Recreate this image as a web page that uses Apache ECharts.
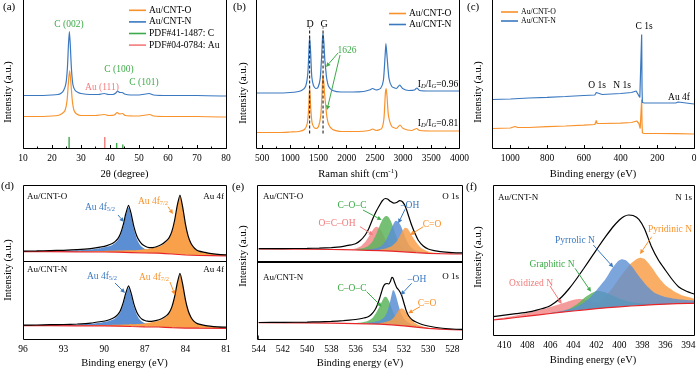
<!DOCTYPE html>
<html>
<head>
<meta charset="utf-8">
<script src="https://cdn.jsdelivr.net/npm/echarts@6.0.0/dist/echarts.min.js"></script>
<style>html,body{margin:0;padding:0;background:#fff;}#chart{width:700px;height:369px;}</style>
</head>
<body>
<div id="chart"></div>
<script>
// ===================== DATA (intensities in arbitrary units) =====================
// (a) XRD
const xrdO = [[10,32],[15,32],[20,32.5],[22,33],[23.5,35],[24.5,38],[25.2,48],[25.7,68],[26.1,78],[26.5,66],[27,48],[27.6,38],[28.5,34.5],[30,33],[35,33],[38,34],[39.5,33],[41.5,33.5],[42.5,36],[43.3,34.5],[44.3,35],[45.2,33],[50,32.5],[53.7,34],[55,32.5],[60,32],[70,32],[80,31.5]];
const xrdN = [[10,53],[15,53],[20,53.5],[22,54],[23,55],[24,58],[24.8,65],[25.3,80],[25.7,105],[26,117],[26.3,104],[26.7,80],[27.2,64],[28,58],[29,56],[30,55],[33,54],[36,54],[38,55],[39.5,54],[41,54],[42,55.5],[42.6,57.5],[43.4,56],[44.2,56],[45,54.5],[47,53.5],[50,53.5],[53.5,55],[55,53.5],[60,53],[70,53],[80,52.5]];
const pdfC = [[25.9,11.5],[42.3,5.5],[44.4,4]];
const pdfAu = [[38.2,11.5]];
// (b) Raman
const ramanO = [[400,16],[800,16],[1000,16.5],[1150,17],[1250,19],[1300,25],[1325,40],[1342,62],[1360,42],[1385,26],[1420,21],[1460,20],[1500,22],[1540,33],[1560,52],[1577,74],[1595,65],[1610,53],[1626,44],[1645,33],[1680,24],[1750,19],[1900,17],[2200,17],[2400,18],[2460,19.5],[2520,18],[2620,20],[2660,30],[2685,55],[2700,60],[2715,52],[2740,33],[2800,22],[2880,20],[2945,23.5],[3000,20],[3150,18],[3240,20],[3290,18],[3600,17.5],[4000,17.5]];
const ramanN = [[400,55.5],[600,55.5],[800,55.5],[1000,56],[1100,56.5],[1200,58],[1270,62],[1310,75],[1330,98],[1342,112],[1360,96],[1380,72],[1410,63],[1450,60],[1490,61],[1530,70],[1555,92],[1570,110],[1580,115],[1595,106],[1610,90],[1626,80],[1645,70],[1680,62],[1750,58],[1900,56.5],[2100,56.5],[2300,57],[2400,58.5],[2460,60],[2520,58.5],[2600,60],[2650,68],[2680,92],[2695,105],[2715,92],[2750,70],[2800,62],[2880,60],[2940,63.5],[2990,60],[3100,58],[3200,58.5],[3245,60.5],[3290,58],[3500,57.5],[3800,57.5],[4000,57.5]];
const ramanBands = [1342, 1580];
const ramanBandSpan = [15, 121];
// (c) XPS survey
const surveyO = [[1100,20],[1000,20.5],[975,22],[960,21],[900,21],[800,21.8],[700,22.5],[600,23.3],[540,24],[532,28],[528,25],[500,25],[400,25.3],[340,26],[312,27.5],[300,25],[293,20],[288,21],[285,49],[283,25],[281,15.5],[270,15],[200,15],[100,14.8],[0,14.5]];
const surveyN = [[1100,49],[1000,49.5],[900,50.5],[800,51.2],[700,52],[600,53],[540,53.5],[532,56],[528,54],[500,54],[400,55],[340,56],[315,57.5],[305,56],[295,51],[288,52],[285,114],[283,60],[281,46],[270,45.5],[200,45.5],[100,45.5],[86,46.5],[80,45.5],[0,44.5]];
// (d) Au 4f
const au4fBaseO = [[96,9.3],[94,9.3],[92,9.2],[90,9.0],[89,8.8],[88,8.4],[87,8.0],[86,7.8],[85.5,7.4],[85,7.0],[84,6.0],[83,5.5],[82,5.3],[81,5.0]];
const au4f52O = [[96,9.7],[94,10.0],[93,10.2],[92,10.7],[91,11.6],[90.2,13.1],[89.8,14.2],[89.4,16.1],[89.2,17.9],[89.0,20.5],[88.8,25.5],[88.6,33.9],[88.4,45.5],[88.2,53.5],[88.0,44.4],[87.8,31.7],[87.6,22.6],[87.4,17.1],[87.2,13.9],[87.0,12.1],[86.6,10.6],[86.2,9.7],[85.8,9.0],[85.0,7.8],[84.0,6.5],[83,5.8],[81,5.1]];
const au4f72O = [[92,9.8],[90,10.1],[88.2,10.7],[87.4,11.1],[87.0,11.7],[86.6,12.6],[86.2,13.7],[85.8,15.3],[85.4,19.2],[85.2,22.5],[85.0,28.8],[84.8,39.8],[84.6,55.0],[84.4,65.4],[84.2,53.4],[84.0,36.7],[83.8,24.8],[83.6,17.6],[83.4,13.4],[83.2,10.9],[83.0,9.6],[82.6,8.4],[82.2,7.4],[81.6,6.5],[81.0,6.1]];
const au4fRawO = [[96,9.9],[95,10.1],[94,10.4],[93,10.7],[92,11.3],[91,12.4],[90.2,14.1],[89.8,15.4],[89.4,17.5],[89.2,19.4],[89.0,22.1],[88.8,27.2],[88.6,35.8],[88.4,47.5],[88.2,55.7],[88.0,46.7],[87.8,34.1],[87.6,25.3],[87.4,20.1],[87.2,16.8],[87.0,15.0],[86.8,13.8],[86.6,13.3],[86.4,13.4],[86.2,14.0],[85.8,16.2],[85.4,20.3],[85.2,23.4],[85.0,29.6],[84.8,40.5],[84.6,55.6],[84.4,65.9],[84.2,53.9],[84.0,37.2],[83.8,25.2],[83.6,18.0],[83.4,13.8],[83.2,11.2],[83.0,9.9],[82.6,8.7],[82.2,7.6],[81.6,6.7],[81.0,6.2]];
const au4fBaseN = [[96,13.3],[94,13.3],[92,13.2],[90,13.1],[89,12.9],[88,12.5],[87,12.2],[86,12.0],[85.5,11.7],[85,11.4],[84,10.9],[83,10.8],[81,10.7]];
const au4f52N = [[96,13.6],[94,13.9],[93,14.0],[92,14.5],[91,15.2],[90.2,16.6],[89.8,17.4],[89.4,19.2],[89.2,20.6],[89.0,22.9],[88.8,27.0],[88.6,34.4],[88.4,44.3],[88.2,51.1],[88.0,43.3],[87.8,32.4],[87.6,24.6],[87.4,20.0],[87.2,17.2],[87.0,15.7],[86.6,14.4],[86.2,13.6],[85.8,13.1],[85.0,12.1],[84.0,11.3],[83,11.1],[81,10.8]];
const au4f72N = [[92,13.7],[90,14.1],[88.2,14.6],[87.4,15.0],[87.0,15.6],[86.6,16.4],[86.2,17.4],[85.8,18.9],[85.4,22.5],[85.2,25.6],[85.0,31.4],[84.8,41.5],[84.6,55.5],[84.4,65.1],[84.2,54.2],[84.0,39.0],[83.8,28.2],[83.6,21.7],[83.4,17.8],[83.2,15.7],[83.0,14.6],[82.6,13.5],[82.2,12.6],[81.6,12.0],[81.0,11.7]];
const au4fRawN = [[96,13.8],[95,14.0],[94,14.3],[93,14.5],[92,15.0],[91,15.9],[90.2,17.5],[89.8,18.5],[89.4,20.5],[89.2,22.0],[89.0,24.4],[88.8,28.6],[88.6,36.1],[88.4,46.1],[88.2,53.1],[88.0,45.4],[87.8,34.6],[87.6,27.1],[87.4,22.5],[87.2,19.8],[87.0,18.5],[86.8,17.8],[86.6,17.6],[86.4,17.8],[86.2,18.3],[85.8,20.0],[85.4,23.4],[85.2,26.4],[85.0,32.1],[84.8,42.1],[84.6,56.0],[84.4,65.6],[84.2,54.6],[84.0,39.4],[83.8,28.5],[83.6,22.0],[83.4,18.1],[83.2,16.0],[83.0,14.9],[82.6,13.7],[82.2,12.8],[81.6,12.1],[81.0,11.8]];
// (e) O 1s
const o1sBaseO = [[544,12.5],[540,12.3],[538,12.0],[537,11.8],[536,11.5],[535,11.2],[534,10.8],[533,10.3],[532,9.7],[531,8.9],[530,8.2],[529,7.8],[528,7.6],[527,7.5]];
const o1sRawO = [[544,12.8],[542,12.9],[540,13.1],[539,13.4],[538,13.9],[537.5,14.4],[537,15.2],[536.5,16.3],[536.0,17.8],[535.6,21.0],[535.2,26.5],[534.9,33.0],[534.6,42.0],[534.3,50.0],[534.0,56.5],[533.8,60.5],[533.55,63.0],[533.35,62.5],[533.1,60.0],[532.85,58.3],[532.6,59.0],[532.35,60.8],[532.1,59.5],[531.85,54.0],[531.6,45.0],[531.35,36.0],[531.1,28.5],[530.8,21.0],[530.4,15.5],[530.0,12.5],[529.5,10.8],[529.0,9.8],[528.0,8.9],[527,8.5]];
const o1sOCOH_O = [[537.0,11.6],[536.5,12.0],[536.0,13.0],[535.6,15.0],[535.2,19.5],[534.9,25.0],[534.6,31.0],[534.4,34.0],[534.25,34.8],[534.0,33.0],[533.8,29.0],[533.6,24.0],[533.4,19.0],[533.2,15.5],[533.0,13.5],[532.6,11.8],[532.0,11.0]];
const o1sCOC_O = [[536.0,12.3],[535.5,13.0],[535.0,15.0],[534.6,20.0],[534.3,27.0],[534.0,36.0],[533.8,41.5],[533.6,44.8],[533.45,45.5],[533.3,44.8],[533.1,41.0],[532.9,35.0],[532.7,27.5],[532.5,21.0],[532.3,16.5],[532.0,13.0],[531.5,11.0],[531.0,10.3]];
const o1sOH_O = [[535.0,12.0],[534.5,12.7],[534.0,14.5],[533.7,17.5],[533.4,23.0],[533.1,31.0],[532.9,36.5],[532.75,40.0],[532.63,40.8],[532.45,39.5],[532.25,35.5],[532.05,29.5],[531.85,23.0],[531.6,17.0],[531.3,13.0],[531.0,11.0],[530.5,9.8],[530.0,9.3]];
const o1sCO_O = [[534.0,12.0],[533.5,13.0],[533.0,15.5],[532.6,20.0],[532.3,26.5],[532.1,31.0],[531.9,33.8],[531.7,33.0],[531.5,29.5],[531.3,25.0],[531.0,19.5],[530.7,15.0],[530.4,12.2],[530.0,10.0],[529.5,8.8],[529.0,8.2]];
const o1sBaseN = [[544,16.3],[540,16.1],[538,15.8],[536,15.4],[535,15.2],[534,14.8],[533,14.2],[532,13.2],[531,11.8],[530,10.6],[529,9.8],[528,9.3],[527,9.0]];
const o1sRawN = [[544,16.5],[542,16.6],[540,16.9],[539,17.2],[538,17.6],[537,18.3],[536.5,18.8],[536,19.5],[535.5,20.5],[535.0,22.0],[534.7,24.5],[534.4,29.0],[534.2,34.0],[534.0,41.0],[533.85,47.0],[533.7,52.5],[533.55,55.0],[533.4,55.5],[533.25,55.0],[533.1,58.0],[533.0,61.7],[532.9,61.0],[532.75,56.0],[532.6,51.5],[532.4,48.5],[532.2,44.0],[532.0,36.0],[531.8,28.0],[531.6,23.0],[531.3,19.0],[531.0,17.0],[530.5,14.5],[530.0,13.0],[529.0,11.0],[528.0,10.0],[527,9.5]];
const o1sCOC_N = [[536.0,16.0],[535.5,16.5],[535.0,18.0],[534.6,21.0],[534.3,26.0],[534.0,33.0],[533.8,38.0],[533.65,41.5],[533.53,42.3],[533.4,41.5],[533.2,37.0],[533.0,30.5],[532.8,24.5],[532.6,20.0],[532.3,17.0],[532.0,15.5],[531.5,14.0]];
const o1sOH_N = [[535.0,16.2],[534.5,17.0],[534.0,18.5],[533.6,22.0],[533.35,28.0],[533.15,37.0],[533.0,45.0],[532.9,49.0],[532.8,48.0],[532.65,43.0],[532.45,34.0],[532.25,26.0],[532.0,20.5],[531.7,17.0],[531.3,14.5],[530.8,13.0],[530.2,11.5]];
const o1sCO_N = [[534.0,16.0],[533.5,17.0],[533.0,19.5],[532.7,23.5],[532.45,28.5],[532.2,30.7],[532.0,29.5],[531.75,25.5],[531.5,21.0],[531.2,17.0],[530.8,14.0],[530.3,12.0],[529.8,11.0],[529.0,10.0]];
// (f) N 1s
const n1sBase = [[411,15],[410,16.2],[409,17.5],[408,18.8],[407,20.2],[406,21.5],[405,22.8],[404,24.0],[403,25.2],[402,26.3],[401,27.3],[400,28.2],[399,29.0],[398,29.7],[397,30.3],[396,30.8],[395,31.3],[394,31.6],[393.5,31.7]];
const n1sRaw = [[411,18.3],[410,19.8],[409,21.3],[408,22.8],[407.2,24.8],[406.2,28.2],[405.6,32.5],[405,38.3],[404.4,46.0],[403.8,55.0],[403.1,66.5],[402.4,78.3],[401.8,88.5],[401.2,98.3],[400.6,107.5],[400.0,115.0],[399.6,118.5],[399.2,120.0],[398.8,119.5],[398.3,115.7],[397.8,106.0],[397.2,88.3],[396.6,75.0],[396.0,65.0],[395.4,55.5],[394.85,48.3],[394.2,44.0],[393.5,41.0]];
const n1sOxidized = [[411,15.8],[410,17.6],[409,19.6],[408,22.0],[407,24.8],[406,28.0],[405,31.5],[404.2,34.5],[403.5,36.0],[402.8,35.0],[402.2,32.5],[401.5,30.0],[400.5,28.8],[399,29.3],[397,30.5],[395,31.4],[393.5,31.8]];
const n1sGraphitic = [[406,21.8],[405,23.5],[404.3,26.5],[403.6,31.5],[403.0,37.5],[402.4,42.0],[401.9,44.3],[401.3,43.0],[400.6,39.5],[399.8,35.5],[399.0,33.0],[398,31.5],[397,31.0],[395,31.5],[393.5,31.8]];
const n1sPyrrolic = [[406,22.0],[405,24.0],[404,27.0],[403.2,31.5],[402.5,38.0],[401.9,46.0],[401.2,56.0],[400.6,67.0],[400.1,74.0],[399.8,75.7],[399.4,74.5],[398.9,68.5],[398.3,59.0],[397.6,49.0],[396.9,42.0],[396,38.0],[395,36.0],[393.5,34.5]];
const n1sPyridinic = [[404,25.0],[402.5,29.0],[401.5,35.0],[400.6,47.0],[399.8,60.0],[399.0,71.5],[398.5,76.0],[398.2,77.3],[397.8,76.0],[397.2,68.0],[396.6,58.0],[396.0,50.0],[395.2,43.5],[394.5,39.5],[393.5,36.5]];
// tick labels
const ticksA = [10,20,30,40,50,60,70,80], minorA = [15,25,35,45,55,65,75];
const ticksB = [500,1000,1500,2000,2500,3000,3500,4000], minorB = [750,1250,1750,2250,2750,3250,3750];
const ticksC = [0,200,400,600,800,1000], minorC = [100,300,500,700,900];
const ticksD = [96,93,90,87,84,81], minorD = [94.5,91.5,88.5,85.5,82.5];
const ticksE = [544,542,540,538,536,534,532,530,528], minorE = [543,541,539,537,535,533,531,529];
const ticksF = [410,408,406,404,402,400,398,396,394], minorF = [409,407,405,403,401,399,397,395];

// ===================== LAYOUT / STYLE =====================
const FONT = 'Liberation Serif';
const C_O = '#F9922B', C_N = '#3A78C0', C_G = '#3DAA48', C_R = '#F37B7B';
const F_B = '#5B8ED3', F_O = '#F9A04A', F_G = '#5DB55D', F_P = '#F28A8A', BASE_RED = '#E8262A';
// panels: [left, top, width, height], x range, inverse, ticks; cut = frame top lies outside the picture
const panels = [
  {box:[23,0.5,203,148], x:[10,80], inv:false, t:ticksA, m:minorA, axis:true, margin:4.5, cut:true},
  {box:[256.5,0.5,203,148], x:[400,4000], inv:false, t:ticksB, m:minorB, axis:true, margin:4.5, cut:true},
  {box:[492,0.5,202,148], x:[0,1100], inv:true, t:ticksC, m:minorC, axis:true, margin:4.5, cut:true},
  {box:[23,185,203,76], x:[81,96], inv:true, t:ticksD, m:minorD, axis:false},
  {box:[23,261,203,78], x:[81,96], inv:true, t:ticksD, m:minorD, axis:true, margin:5},
  {box:[257.5,185,204.5,76.5], x:[527.2,544.1], inv:true, t:ticksE, m:minorE, axis:false},
  {box:[257.5,261.5,204.5,77.5], x:[527.2,544.1], inv:true, t:ticksE, m:minorE, axis:true, margin:5},
  {box:[493,185,201,150], x:[393.5,411], inv:true, t:ticksF, m:minorF, axis:true, margin:5}
];
const grid = [], xAxis = [], yAxis = [];
panels.forEach((p, i) => {
  grid.push({left:p.box[0], top:p.box[1], width:p.box[2], height:p.box[3], show:false});
  xAxis.push({gridIndex:i, type:'value', min:p.x[0], max:p.x[1], inverse:p.inv, show:p.axis, position:'bottom',
    axisLine:{show:false}, splitLine:{show:false},
    axisTick:{show:true, inside:true, length:3.5, customValues:p.t, lineStyle:{color:'#000', width:1}},
    axisLabel:{show:true, customValues:p.t, margin:p.margin||5, fontSize:9.5, fontFamily:FONT, color:'#000', formatter:v=>String(v)}});
  xAxis.push({gridIndex:i, type:'value', min:p.x[0], max:p.x[1], inverse:p.inv, show:p.axis, position:'bottom',
    axisLine:{show:false}, splitLine:{show:false},
    axisTick:{show:true, inside:true, length:2, customValues:p.m, lineStyle:{color:'#000', width:1}},
    axisLabel:{show:false}});
  yAxis.push({gridIndex:i, type:'value', min:0, max:p.box[3], show:false});
});

function line(p, name, data, color, w, extra) {
  return Object.assign({type:'line', name:name, xAxisIndex:2*p, yAxisIndex:p, data:data, symbol:'none', showSymbol:false,
    smooth:0.2, color:color, itemStyle:{color:color}, lineStyle:{color:color, width:w}, silent:true, z:3}, extra || {});
}
function fill(p, data, color, op) {
  return line(p, '', data, color, 0, {areaStyle:{color:color, opacity:op}, lineStyle:{width:0, color:color}});
}
function base(p, data) {
  return line(p, '', data, BASE_RED, 1.2, {smooth:0, areaStyle:{color:'#fff', opacity:1}, z:4});
}
function raw(p, data) { return line(p, '', data, '#000', 1.2, {z:5}); }

const series = [
  // (a)
  line(0, 'Au/CNT-O', xrdO, C_O, 1.2),
  line(0, 'Au/CNT-N', xrdN, C_N, 1.2),
  {type:'bar', name:'PDF#41-1487: C', xAxisIndex:0, yAxisIndex:0, data:pdfC, barWidth:1.4, itemStyle:{color:C_G}, color:C_G, silent:true},
  {type:'bar', name:'PDF#04-0784: Au', xAxisIndex:0, yAxisIndex:0, data:pdfAu, barWidth:1.4, itemStyle:{color:C_R}, color:C_R, silent:true, barGap:'-100%'},
  // (b)
  line(1, 'Au/CNT-O', ramanO, C_O, 1.2),
  line(1, 'Au/CNT-N', ramanN, C_N, 1.2),
  ...ramanBands.map(b => line(1, '', [[b, ramanBandSpan[0]], [b, ramanBandSpan[1]]], '#222', 1.1, {smooth:0, lineStyle:{color:'#222', width:1.1, type:[3,2]}, z:6})),
  // (c)
  line(2, 'Au/CNT-O', surveyO, C_O, 1.2, {smooth:0}),
  line(2, 'Au/CNT-N', surveyN, C_N, 1.2, {smooth:0}),
  // (d)
  fill(3, au4f52O, F_B, 1), fill(3, au4f72O, F_O, 1), base(3, au4fBaseO), raw(3, au4fRawO),
  fill(4, au4f52N, F_B, 1), fill(4, au4f72N, F_O, 1), base(4, au4fBaseN), raw(4, au4fRawN),
  // (e)
  fill(5, o1sOCOH_O, F_P, 0.85), fill(5, o1sCOC_O, F_G, 0.85), fill(5, o1sOH_O, F_B, 0.85), fill(5, o1sCO_O, F_O, 0.85), base(5, o1sBaseO), raw(5, o1sRawO),
  fill(6, o1sCOC_N, F_G, 0.85), fill(6, o1sOH_N, F_B, 0.85), fill(6, o1sCO_N, F_O, 0.85), base(6, o1sBaseN), raw(6, o1sRawN),
  // (f)
  fill(7, n1sOxidized, F_P, 0.85), fill(7, n1sPyridinic, F_O, 0.85), fill(7, n1sGraphitic, F_G, 0.85), fill(7, n1sPyrrolic, F_B, 0.8), base(7, n1sBase), raw(7, n1sRaw)
];

const legendBase = {orient:'vertical', icon:'rect', itemWidth:17, itemHeight:1.6, itemGap:0, selectedMode:false, padding:0};
const legend = [
  Object.assign({}, legendBase, {left:129, top:4.5, data:['Au/CNT-O','Au/CNT-N','PDF#41-1487: C','PDF#04-0784: Au'], textStyle:{fontSize:9.5, fontFamily:FONT, color:'#000', lineHeight:11.6, padding:[0,0,0,-2]}}),
  Object.assign({}, legendBase, {left:389, top:8, data:['Au/CNT-O','Au/CNT-N'], textStyle:{fontSize:9.5, fontFamily:FONT, color:'#000', lineHeight:11, padding:[0,0,0,-2]}}),
  Object.assign({}, legendBase, {left:501, top:7.5, data:['Au/CNT-O','Au/CNT-N'], textStyle:{fontSize:7.8, fontFamily:FONT, color:'#000', lineHeight:9, padding:[0,0,0,-2]}})
];

// ===================== ANNOTATIONS =====================
function T(x, y, text, o) {
  o = o || {};
  const st = {text:text, fill:o.color || '#000', fontSize:o.size || 9.5, fontFamily:FONT,
    align:o.align || 'center', verticalAlign:'middle', textAlign:o.align || 'center', textVerticalAlign:'middle'};
  if (o.rich) st.rich = o.rich;
  return {type:'text', x:x, y:y, rotation:o.rot || 0, z:100, silent:true, style:st};
}
function sub(x, y, main, s, color) {
  return T(x, y, '{m|' + main + '}{s|' + s + '}', {color:color, rich:{
    m:{fontSize:9.5, fontFamily:FONT, fill:color, lineHeight:12},
    s:{fontSize:6.5, fontFamily:FONT, fill:color, lineHeight:4, verticalAlign:'bottom'}}});
}
function ratio(x, y, val) {
  const r = {m:{fontSize:9.5, fontFamily:FONT, fill:'#000', lineHeight:12},
             s:{fontSize:6.5, fontFamily:FONT, fontStyle:'italic', fill:'#000', lineHeight:4, verticalAlign:'bottom'}};
  return T(x, y, '{m|I}{s|D}{m|/I}{s|G}{m|=' + val + '}', {rich:r});
}
function arrow(x1, y1, x2, y2, color) {
  const a = Math.atan2(y2 - y1, x2 - x1), L = 4.5, W = 2.2;
  const bx = x2 - L * Math.cos(a), by = y2 - L * Math.sin(a);
  return [
    {type:'line', z:100, silent:true, shape:{x1:x1, y1:y1, x2:bx, y2:by}, style:{stroke:color, lineWidth:1}},
    {type:'polygon', z:100, silent:true, shape:{points:[[x2, y2], [bx + W * Math.sin(a), by - W * Math.cos(a)], [bx - W * Math.sin(a), by + W * Math.cos(a)]]}, style:{fill:color}}
  ];
}
const frames = panels.map(p => {
  const top = p.cut ? -1.5 : Math.floor(p.box[1]) + 0.5;
  const bottom = Math.floor(p.box[1]) + 0.5 + Math.round(p.box[3]);
  return {type:'rect', z:101, silent:true,
    shape:{x:Math.floor(p.box[0]) + 0.5, y:top, width:Math.round(p.box[2]), height:bottom - top},
    style:{fill:'none', stroke:'#000', lineWidth:1}};
});
const yTitle = (x, y) => T(x, y, 'Intensity (a.u.)', {size:10.5, rot:Math.PI / 2});
const superRich = {m:{fontSize:10.5, fontFamily:FONT, fill:'#000', lineHeight:12}, p:{fontSize:7, fontFamily:FONT, fill:'#000', lineHeight:7, verticalAlign:'top'}};

const graphics = [].concat(
  frames,
  [T(3, 7, '(a)', {align:'left', size:11}), T(233, 7, '(b)', {align:'left', size:11}), T(467, 7, '(c)', {align:'left', size:11}),
   T(1, 186, '(d)', {align:'left', size:11}), T(232, 187, '(e)', {align:'left', size:11}), T(466, 187, '(f)', {align:'left', size:11})],
  [yTitle(8, 92), yTitle(243, 93), yTitle(478, 92), yTitle(8, 270), yTitle(243, 256), yTitle(478, 257)],
  [T(124.5, 174, '2θ (degree)', {size:10.5}),
   T(358, 174, '{m|Raman shift (cm}{p|-1}{m|)}', {rich:superRich}),
   T(593, 174, 'Binding energy (eV)', {size:10.5}),
   T(124.5, 363, 'Binding energy (eV)', {size:10.5}),
   T(360, 363, 'Binding energy (eV)', {size:10.5}),
   T(593, 360, 'Binding energy (eV)', {size:10.5})],
  // (a)
  [T(69, 24, 'C (002)', {color:C_G}), T(119, 69, 'C (100)', {color:C_G}), T(102, 87, 'Au (111)', {color:C_R}), T(144, 82, 'C (101)', {color:C_G})],
  // (b)
  [T(310, 24, 'D', {size:10}), T(324, 24, 'G', {size:10}), T(347, 50, '1626', {color:C_G}), ratio(438, 84, '0.96'), ratio(438, 123, '0.81')],
  arrow(338, 53, 326, 67, C_G), arrow(340, 55, 327, 110, C_G),
  // (c)
  [T(644, 26, 'C 1s'), T(597, 85, 'O 1s'), T(622, 85, 'N 1s'), T(679, 97, 'Au 4f')],
  // (d)
  [T(27, 197, 'Au/CNT-O', {align:'left', size:9}), T(224, 197, 'Au 4f', {align:'right', size:9}),
   sub(100, 207, 'Au 4f', '5/2', C_N), sub(153, 201, 'Au 4f', '7/2', C_O),
   T(27, 270, 'Au/CNT-N', {align:'left', size:9}), T(224, 270, 'Au 4f', {align:'right', size:9}),
   sub(102, 276, 'Au 4f', '5/2', C_N), sub(154, 277, 'Au 4f', '7/2', C_O)],
  arrow(118, 215, 124, 222, C_N), arrow(168, 206.7, 173, 214, C_O),
  arrow(115, 283, 125, 293, C_N), arrow(170, 282, 175, 295, C_O),
  // (e)
  [T(263, 197, 'Au/CNT-O', {align:'left', size:9}), T(459, 197, 'O 1s', {align:'right', size:9}),
   T(352, 205, 'C–O–C', {color:C_G}), T(410, 205, '–OH', {color:C_N}), T(337, 223, 'O=C–OH', {color:C_R}), T(432, 224, 'C=O', {color:C_O}),
   T(263, 278, 'Au/CNT-N', {align:'left', size:9}), T(459, 277, 'O 1s', {align:'right', size:9}),
   T(352, 288, 'C–O–C', {color:C_G}), T(417, 279, '–OH', {color:C_N}), T(427, 303, 'C=O', {color:C_O})],
  arrow(363, 210, 381.7, 220, C_G), arrow(405, 209.3, 398.3, 223.3, C_N), arrow(360, 226.7, 373.3, 235, C_R), arrow(423.3, 226.7, 410, 235, C_O),
  arrow(366.7, 291.7, 381.7, 306.7, C_G), arrow(411.7, 283.3, 400.7, 295, C_N), arrow(420, 306.7, 408.3, 313.3, C_O),
  // (f)
  [T(498, 198, 'Au/CNT-N', {align:'left', size:9}), T(692, 198, 'N 1s', {align:'right', size:9}),
   T(670, 229, 'Pyridinic N', {color:C_O}), T(575, 240, 'Pyrrolic N', {color:C_N}), T(552, 264, 'Graphitic N', {color:C_G}), T(531, 283, 'Oxidized N', {color:C_R})],
  arrow(651.7, 236.7, 640, 254, C_O), arrow(593.3, 245, 613.3, 267.3, C_N), arrow(575, 268.3, 591, 291.7, C_G), arrow(550, 286, 561.7, 304, C_R)
);

const chart = echarts.init(document.getElementById('chart'), null, {renderer:'canvas'});
chart.setOption({animation:false, backgroundColor:'#fff', grid:grid, xAxis:xAxis, yAxis:yAxis, legend:legend, series:series, graphic:{elements:graphics}});
</script>
</body>
</html>
